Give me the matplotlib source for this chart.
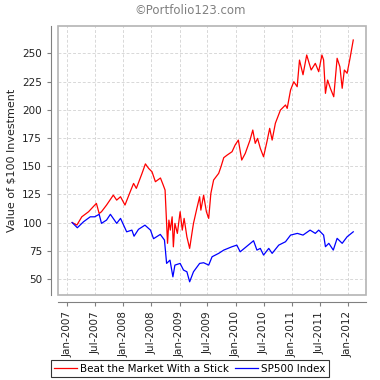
import numpy as np
import pandas as pd
import matplotlib
matplotlib.use("Agg")
import matplotlib.pyplot as plt
import matplotlib.dates as mdates
from matplotlib.patches import Rectangle

# values (approximate)
red_dates = ['2007-02-01', '2007-03-04', '2007-04-05', '2007-05-19', '2007-06-18', '2007-07-09',
             '2007-07-27', '2007-08-11', '2007-09-13', '2007-10-27', '2007-11-18', '2007-12-13',
             '2008-01-11', '2008-02-14', '2008-03-07', '2008-03-25', '2008-05-01', '2008-05-23',
             '2008-06-13', '2008-07-05', '2008-07-27', '2008-08-29', '2008-09-16', '2008-09-28',
             '2008-10-04', '2008-10-14', '2008-10-23', '2008-11-01', '2008-11-13', '2008-11-21',
             '2008-12-01', '2008-12-17', '2009-01-04', '2009-01-18', '2009-01-30', '2009-02-17',
             '2009-03-07', '2009-03-25', '2009-04-01', '2009-04-23', '2009-05-11', '2009-05-19',
             '2009-06-06', '2009-06-24', '2009-07-09', '2009-07-23', '2009-08-10', '2009-09-12',
             '2009-09-27', '2009-10-15', '2009-11-06', '2009-12-08', '2009-12-28', '2010-01-18',
             '2010-02-09', '2010-03-04', '2010-04-04', '2010-04-22', '2010-05-08', '2010-05-23',
             '2010-06-10', '2010-07-01', '2010-07-23', '2010-08-10', '2010-08-26', '2010-09-16',
             '2010-10-19', '2010-11-21', '2010-12-02', '2010-12-24', '2011-01-14', '2011-02-05',
             '2011-02-20', '2011-03-15', '2011-04-08', '2011-05-07', '2011-06-03', '2011-06-25',
             '2011-07-16', '2011-07-27', '2011-08-08', '2011-08-22', '2011-09-09', '2011-10-01',
             '2011-10-23', '2011-11-10', '2011-11-25', '2011-12-09', '2011-12-27', '2012-01-15',
             '2012-02-05']
red_vals = [100, 97.8, 105.1, 109.6, 114, 117,
            108, 109.6, 115.5, 124.3, 119.9, 122.9,
            115.5, 127.3, 134.7, 130.3, 143.6, 152,
            148, 145, 136.2, 139.5, 133.2, 128.8,
            111, 81.6, 102.2, 93.3, 105.1, 78.5,
            99.3, 90.4, 109.6, 93.3, 103.7, 87.4,
            77.1, 93.3, 99.3, 112.6, 122.9, 111,
            124.3, 109.6, 103.7, 125.8, 137.7, 143.6,
            149.5, 157.5, 159.8, 162.8, 168.7, 173.1,
            155.4, 161.3, 173.1, 182, 170.2, 174.6,
            165.8, 158.3, 171.6, 183.5, 173.1, 188,
            199.7, 204.2, 201.2, 217.5, 224.8, 220.4,
            244, 231, 248.5, 235.2, 241.1, 233.7,
            248.5, 244.1, 214.5, 226.3, 219, 211.5,
            245.6, 238.1, 219, 235.2, 232.3, 245.6,
            261.8]

blue_dates = ['2007-02-01', '2007-03-07', '2007-04-16', '2007-05-30', '2007-06-28', '2007-07-27',
              '2007-08-11', '2007-09-13', '2007-10-08', '2007-11-18', '2007-12-13', '2008-01-22',
              '2008-02-25', '2008-03-10', '2008-04-08', '2008-05-20', '2008-06-25', '2008-07-15',
              '2008-08-28', '2008-09-24', '2008-10-08', '2008-10-30', '2008-11-18', '2008-12-01',
              '2009-01-04', '2009-01-26', '2009-02-17', '2009-03-07', '2009-04-01', '2009-05-11',
              '2009-06-06', '2009-07-09', '2009-07-31', '2009-09-12', '2009-10-15', '2009-12-08',
              '2010-01-08', '2010-01-30', '2010-03-11', '2010-04-27', '2010-05-19', '2010-06-10',
              '2010-07-01', '2010-08-04', '2010-08-26', '2010-10-08', '2010-11-21', '2010-12-24',
              '2011-02-06', '2011-03-15', '2011-04-30', '2011-06-03', '2011-06-25', '2011-07-27',
              '2011-08-08', '2011-08-30', '2011-09-28', '2011-10-23', '2011-11-25', '2011-12-27',
              '2012-02-05']
blue_vals = [100, 95.4, 100.7, 105.1, 105.1, 107.3,
             99.3, 102.2, 107.3, 99.3, 103.7, 91.8,
             93.3, 87.9, 94, 97.7, 93.3, 85.7,
             89.5, 84.5, 63.8, 66.7, 51.9, 62.3,
             63.8, 57.9, 56.4, 47.5, 56.4, 63.8,
             64.4, 62.3, 69.7, 72.7, 75.6, 78.6,
             80, 74.1, 78.6, 83.9, 75.6, 77.1,
             71.2, 77.1, 72.7, 80, 83, 88.9,
             90.4, 88.9, 93.3, 90.4, 93.3, 88.9,
             78.6, 81.6, 75.6, 86, 81.6, 87.4,
             91.8]

y_ticks = [50, 75, 100, 125, 150, 175, 200, 225, 250]
x_ticks = ['2007-01-01', '2007-07-01', '2008-01-01', '2008-07-01', '2009-01-01', '2009-07-01',
           '2010-01-01', '2010-07-01', '2011-01-01', '2011-07-01', '2012-01-01']

plt.rcParams['font.family'] = 'DejaVu Sans'

fig = plt.figure(figsize=(3.8, 3.8), dpi=100)
ax = fig.add_axes([58/380, 1 - 295/380, (366 - 58)/380, (295 - 26)/380])

ax.plot(pd.to_datetime(red_dates), red_vals, color='#ff0000', lw=0.9, label='Beat the Market With a Stick')
ax.plot(pd.to_datetime(blue_dates), blue_vals, color='#0000ff', lw=0.9, label='SP500 Index')

ax.set_ylim(35.8, 274.2)
ax.set_xlim(pd.Timestamp('2006-11-01'), pd.Timestamp('2012-04-28'))
ax.set_yticks(y_ticks)
ax.set_xticks(pd.to_datetime(x_ticks))
ax.xaxis.set_major_formatter(mdates.DateFormatter('%b-%Y'))
ax.tick_params(axis='x', labelrotation=90)
ax.tick_params(labelsize=7.5, colors='#808080', labelcolor='#222222',
               length=3, width=0.8, direction='out')

ax.grid(True, color='#d8d8d8', linestyle=(0, (3, 2)), linewidth=0.7)

# axis lines offset from plot area, like JFreeChart
for s in ['left', 'bottom']:
    ax.spines[s].set_position(('outward', 5))
    ax.spines[s].set_color('#808080')
for s in ['top', 'right']:
    ax.spines[s].set_visible(False)
ax.add_patch(Rectangle((0, 0), 1, 1, transform=ax.transAxes, fill=False,
                       edgecolor='#b4b4b4', linewidth=1.2, clip_on=False, zorder=5))

ax.set_ylabel('Value of $100 Investment', fontsize=8, color='#222222')
fig.text(0.5, 1 - 11/380, '©Portfolio123.com', ha='center', va='center',
         fontsize=8.5, color='#808080')

leg = fig.legend(loc='center', bbox_to_anchor=(190/380, 1 - 368.5/380), ncol=2,
                 fontsize=7.5, frameon=True, fancybox=False, handlelength=2.2,
                 handletextpad=0.3, columnspacing=0.6, borderpad=0.3)
leg.get_frame().set_edgecolor('black')
leg.get_frame().set_linewidth(0.8)

fig.savefig('out.png', dpi=100)
